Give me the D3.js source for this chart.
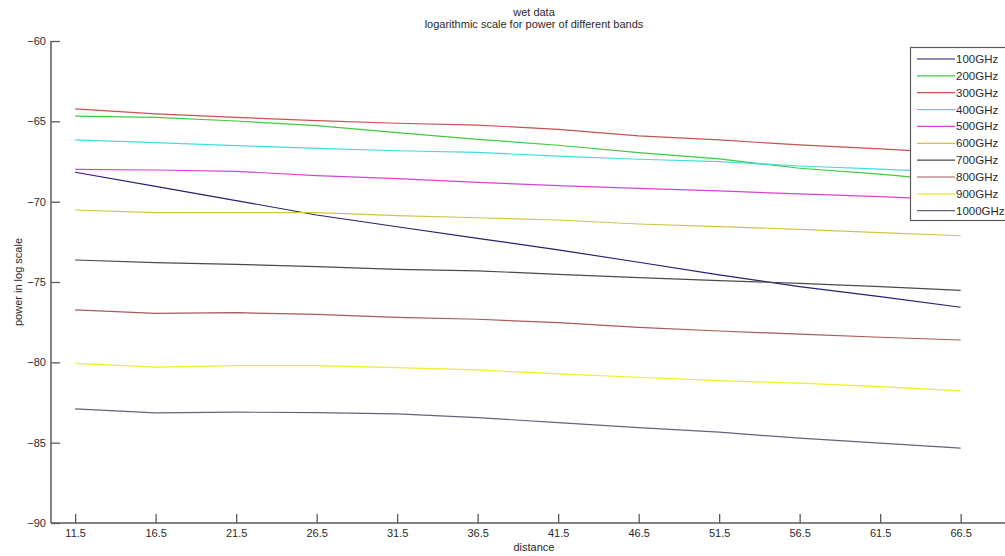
<!DOCTYPE html>
<html>
<head>
<meta charset="utf-8">
<script src="https://cdn.jsdelivr.net/npm/d3@7"></script>
<style>
  html, body { margin: 0; padding: 0; background: #fff; }
  svg { display: block; font-family: "Liberation Sans", Arial, sans-serif; }
</style>
</head>
<body>
<svg id="chart" width="1005" height="556"></svg>
<script>
const distance = [11.5, 16.5, 21.5, 26.5, 31.5, 36.5, 41.5, 46.5, 51.5, 56.5, 61.5, 66.5];
const bandNames = ["100GHz","200GHz","300GHz","400GHz","500GHz","600GHz","700GHz","800GHz","900GHz","1000GHz"];
const bandColors = ["#23236e","#3fcb3f","#c65252","#3fdede","#d444d4","#d2c443","#4a4a4a","#a65a5a","#eeee2a","#62627e"];
const p100  = [-68.17, -69.05, -69.93, -70.83, -71.56, -72.28, -73.00, -73.77, -74.56, -75.29, -75.91, -76.57];
const p200  = [-64.67, -64.75, -64.98, -65.27, -65.70, -66.12, -66.49, -66.95, -67.34, -67.92, -68.28, -68.75];
const p300  = [-64.23, -64.54, -64.75, -64.96, -65.12, -65.23, -65.50, -65.91, -66.16, -66.47, -66.72, -67.00];
const p400  = [-66.16, -66.33, -66.51, -66.68, -66.83, -66.93, -67.16, -67.36, -67.51, -67.78, -67.97, -68.20];
const p500  = [-67.99, -68.03, -68.11, -68.38, -68.57, -68.80, -69.00, -69.17, -69.33, -69.52, -69.69, -69.90];
const p600  = [-70.52, -70.68, -70.68, -70.68, -70.87, -71.00, -71.14, -71.39, -71.55, -71.72, -71.93, -72.12];
const p700  = [-73.63, -73.80, -73.90, -74.04, -74.21, -74.31, -74.52, -74.73, -74.91, -75.08, -75.29, -75.52];
const p800  = [-76.74, -76.95, -76.91, -77.01, -77.20, -77.32, -77.53, -77.82, -78.05, -78.25, -78.44, -78.61];
const p900  = [-80.06, -80.30, -80.20, -80.20, -80.33, -80.47, -80.72, -80.93, -81.14, -81.30, -81.51, -81.78];
const p1000 = [-82.90, -83.15, -83.10, -83.13, -83.21, -83.44, -83.75, -84.06, -84.35, -84.72, -85.03, -85.34];
const yTicks = [-90, -85, -80, -75, -70, -65, -60];
const xTicks = distance;

const series = [p100, p200, p300, p400, p500, p600, p700, p800, p900, p1000];

const svg = d3.select("#chart");
const mLeft = 51, mRight = 1017, mTop = 41, mBottom = 523;
const x = d3.scaleLinear().domain([10, 70]).range([mLeft, mRight]);
const y = d3.scaleLinear().domain([-90, -60]).range([mBottom, mTop]);
const axisColor = "#5a5a5a";
const textColor = "#2a2a2a";

// lines
const line = d3.line().x((d, i) => x(distance[i])).y(d => y(d));
svg.append("g").selectAll("path").data(series).join("path")
  .attr("d", d => line(d))
  .attr("fill", "none")
  .attr("stroke", (d, i) => bandColors[i])
  .attr("stroke-width", 1.2);

// axes
const yAxis = d3.axisRight(y).tickValues(yTicks).tickSize(9).tickFormat(d3.format("d"));
const gy = svg.append("g").attr("transform", `translate(${mLeft},0)`).call(yAxis);
gy.select(".domain").attr("stroke", axisColor).attr("stroke-width", 1.5).attr("d", `M0,${mTop}V${mBottom}`);
gy.selectAll(".tick line").attr("stroke", axisColor).attr("stroke-width", 1.3);
gy.selectAll(".tick text").attr("x", -5).attr("text-anchor", "end")
  .attr("fill", textColor).style("font-size", "11px");

const xAxis = d3.axisTop(x).tickValues(xTicks).tickSize(9).tickFormat(d3.format(".1f"));
const gx = svg.append("g").attr("transform", `translate(0,${mBottom})`).call(xAxis);
gx.select(".domain").attr("stroke", axisColor).attr("stroke-width", 1.5).attr("d", `M${mLeft},0H${mRight}`);
gx.selectAll(".tick line").attr("stroke", axisColor).attr("stroke-width", 1.3);
gx.selectAll(".tick text").attr("y", 14).attr("dy", 0)
  .attr("fill", textColor).style("font-size", "11px");

// labels
const cx = (mLeft + mRight) / 2;
svg.append("text").attr("x", cx).attr("y", 16).attr("text-anchor", "middle")
  .attr("fill", textColor).style("font-size", "11px").text("wet data");
svg.append("text").attr("x", cx).attr("y", 28).attr("text-anchor", "middle")
  .attr("fill", textColor).style("font-size", "11px").text("logarithmic scale for power of different bands");
svg.append("text").attr("x", cx).attr("y", 551).attr("text-anchor", "middle")
  .attr("fill", textColor).style("font-size", "11px").text("distance");
svg.append("text").attr("transform", `translate(22,${(mTop + mBottom) / 2}) rotate(-90)`)
  .attr("text-anchor", "middle").attr("fill", textColor).style("font-size", "11px")
  .text("power in log scale");

// legend
const lg = svg.append("g");
lg.append("rect").attr("x", 910.5).attr("y", 47.5).attr("width", 120).attr("height", 173)
  .attr("fill", "#fff").attr("stroke", axisColor).attr("stroke-width", 1.2);
const rowY = d3.scaleLinear().domain([0, bandNames.length - 1]).range([59, 210.7]);
const items = lg.selectAll("g.item").data(bandNames).join("g").attr("class", "item")
  .attr("transform", (d, i) => `translate(0,${rowY(i)})`);
items.append("line").attr("x1", 917).attr("x2", 955).attr("y1", 0).attr("y2", 0)
  .attr("stroke", (d, i) => bandColors[i]).attr("stroke-width", 1.2);
items.append("text").attr("x", 956).attr("y", 4).attr("fill", textColor)
  .style("font-size", "11.5px").text(d => d);
</script>
</body>
</html>
